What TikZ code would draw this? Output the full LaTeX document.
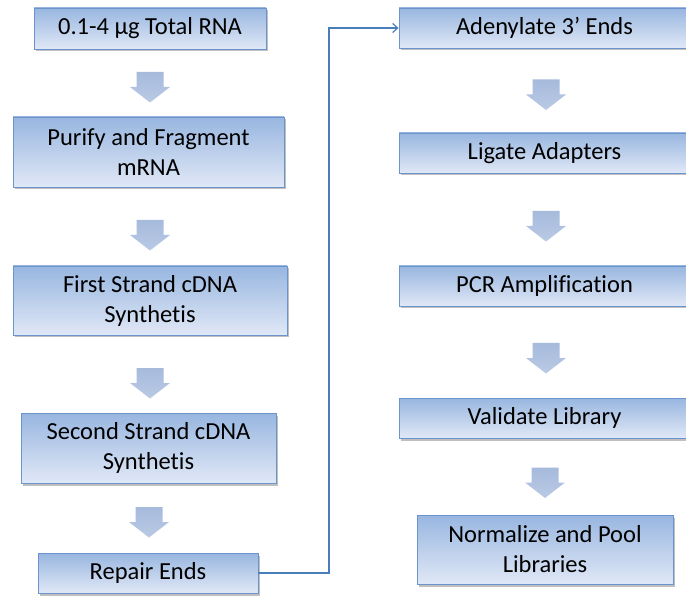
\documentclass[tikz,border=0pt]{standalone}
\usepackage{fontspec}
\setmainfont{Carlito}[Ligatures={NoCommon}]
\usetikzlibrary{shadows,arrows.meta,calc}
\definecolor{boxtop}{RGB}{152,182,224}
\definecolor{boxbot}{RGB}{224,232,246}
\definecolor{boxline}{RGB}{108,148,204}
\definecolor{linkcol}{RGB}{74,126,187}
\definecolor{arrtop}{RGB}{166,186,220}
\definecolor{arrbot}{RGB}{186,202,229}
\tikzset{
  stepbox/.style={draw=boxline, line width=0.9pt, top color=boxtop, bottom color=boxbot,
    inner sep=0pt, align=center, font=\fontsize{24.5}{30}\selectfont,
    drop shadow={shadow xshift=2pt, shadow yshift=-2.5pt, fill=black, opacity=0.25}},
  blockarrow/.style={top color=arrtop, bottom color=arrbot, draw=none},
  link/.style={draw=linkcol, line width=1.2pt, -{Straight Barb[length=5pt,width=9pt]}}
}
\newcommand\bigdownarrow[1]{%
  \path[blockarrow] ($(#1)+(-13.5,-15)$) -- ($(#1)+(13.5,-15)$) -- ($(#1)+(13.5,0)$)
    -- ($(#1)+(20,0)$) -- ($(#1)+(0,15.5)$) -- ($(#1)+(-20,0)$) -- ($(#1)+(-13.5,0)$) -- cycle;}
\begin{document}
\begin{tikzpicture}[x=1pt,y=-1pt]
\clip (0,0) rectangle (686,596);
\fill[white] (0,0) rectangle (686,596);
% left column
\node[stepbox, minimum width=232pt, minimum height=41pt] (a) at (150,28.5) {0.1-4 µg Total RNA};
\node[stepbox, minimum width=271pt, minimum height=70pt] (b) at (148.5,152) {Purify and Fragment\\mRNA};
\node[stepbox, minimum width=274pt, minimum height=69pt] (c) at (150,300.5) {First Strand cDNA\\Synthetis};
\node[stepbox, minimum width=255pt, minimum height=70pt] (d) at (148.5,448) {Second Strand cDNA\\Synthetis};
\node[stepbox, minimum width=220pt, minimum height=40pt] (e) at (148,573) {Repair Ends};
% right column
\node[stepbox, minimum width=291pt, minimum height=40pt] (f) at (544.5,28) {Adenylate 3’ Ends};
\node[stepbox, minimum width=291pt, minimum height=40pt] (g) at (544.5,153) {Ligate Adapters};
\node[stepbox, minimum width=291pt, minimum height=40pt] (h) at (544.5,286) {PCR Amplification};
\node[stepbox, minimum width=291pt, minimum height=40pt] (i) at (544.5,418) {Validate Library};
\node[stepbox, minimum width=256pt, minimum height=69pt] (j) at (545,549.5) {Normalize and Pool\\Libraries};
% block arrows
\bigdownarrow{150,87}
\bigdownarrow{150,235}
\bigdownarrow{150,383}
\bigdownarrow{149,522}
\bigdownarrow{546,94.5}
\bigdownarrow{546,226}
\bigdownarrow{546,358}
\bigdownarrow{545,482.5}
% connector
\coordinate (bend) at (329,30);
\draw[link] (e.east) -| (bend) |- (f.west);
\end{tikzpicture}
\end{document}
